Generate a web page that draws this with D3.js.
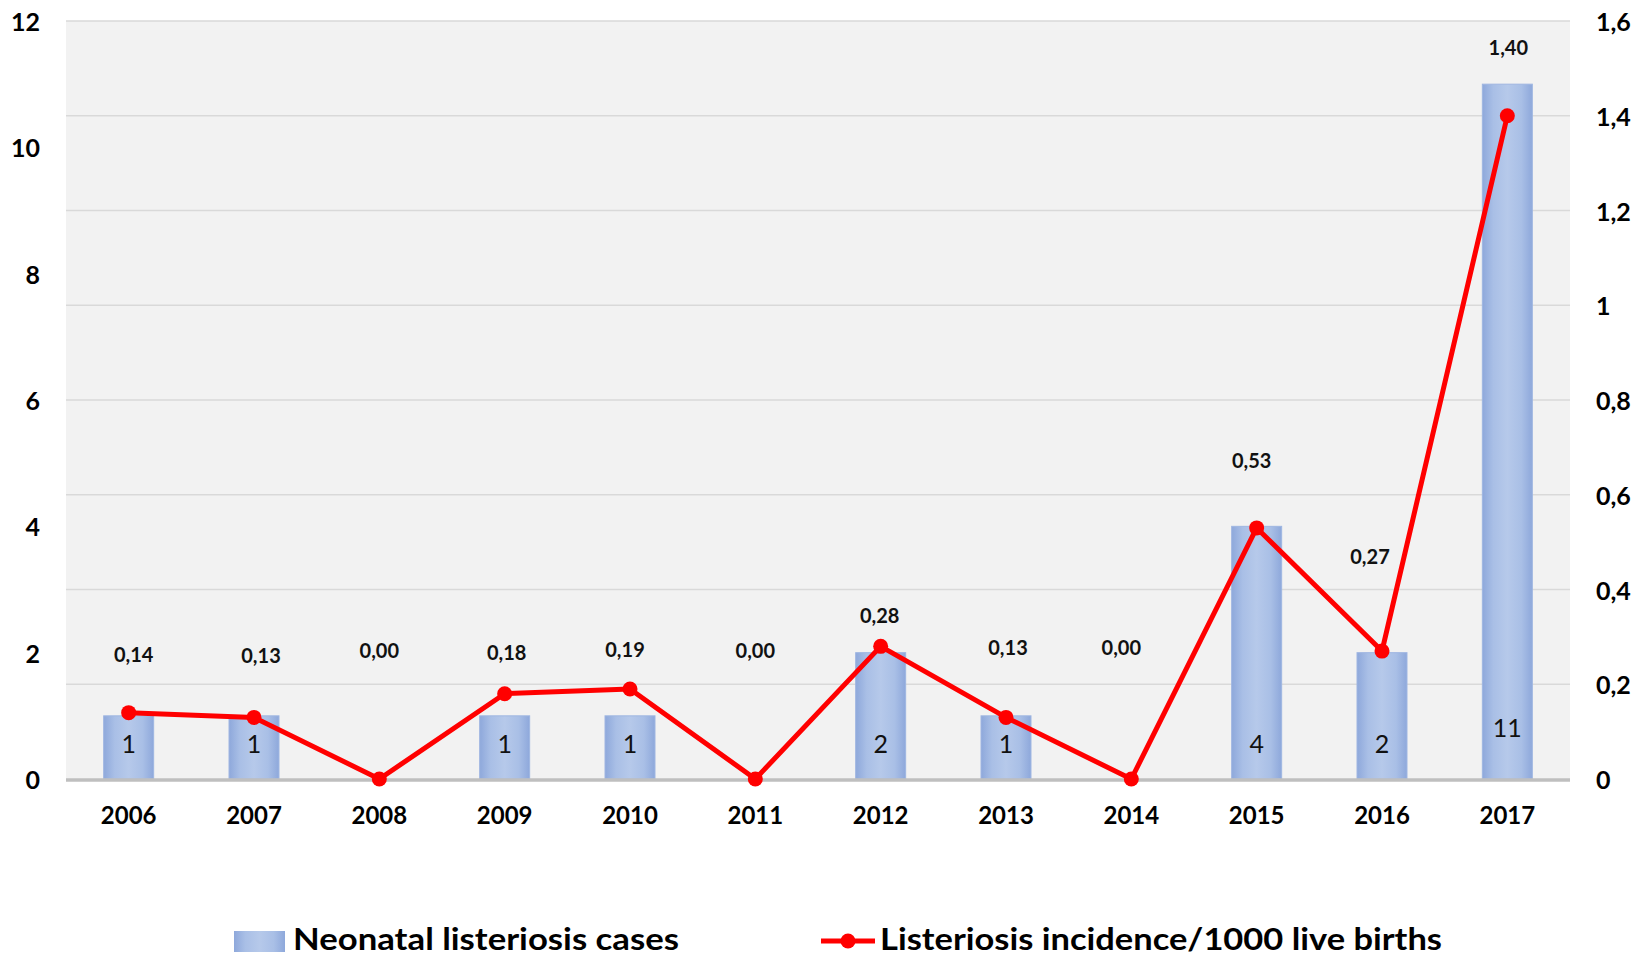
<!DOCTYPE html>
<html>
<head>
<meta charset="utf-8">
<script src="https://cdn.jsdelivr.net/npm/d3@7"></script>
<style>
  html, body { margin: 0; padding: 0; background: #ffffff; }
  svg text { font-family: Lato, "Open Sans", "Liberation Sans", sans-serif; }
</style>
</head>
<body>
<svg id="chart" width="1638" height="957"></svg>
<script>
// Years on the category axis
const years = ["2006", "2007", "2008", "2009", "2010", "2011", "2012", "2013", "2014", "2015", "2016", "2017"];
// Neonatal listeriosis cases per year (bars, left axis)
const cases = [1, 1, 0, 1, 1, 0, 2, 1, 0, 4, 2, 11];
// Listeriosis incidence per 1000 live births (line, right axis)
const incidence = [0.14, 0.13, 0.00, 0.18, 0.19, 0.00, 0.28, 0.13, 0.00, 0.53, 0.27, 1.40];
// Axis tick labels
const leftTicks = [0, 2, 4, 6, 8, 10, 12];
const rightTicks = [0, 0.2, 0.4, 0.6, 0.8, 1, 1.2, 1.4, 1.6];
// Legend entries
const legendNames = ["Neonatal listeriosis cases", "Listeriosis incidence/1000 live births"];

// Placement of the incidence labels: level on the right axis and a small horizontal nudge
const labelLevel = [0.264, 0.262, 0.272, 0.268, 0.274, 0.272, 0.346, 0.279, 0.279, 0.673, 0.471, 1.545];
const labelNudge = [5, 7, 0, 2, -5, 0, -1, 2, -10, -5, -12, 1];

const svg = d3.select("#chart");
const plot = { left: 66, right: 1570, top: 21, bottom: 779 };

const xc = d3.scaleBand().domain(years).range([plot.left, plot.right]);
const yL = d3.scaleLinear().domain([0, 12]).range([plot.bottom, plot.top]);
const yR = d3.scaleLinear().domain([0, 1.6]).range([plot.bottom, plot.top]);
const cx = d => xc(d) + xc.bandwidth() / 2;

// Bar gradient
const defs = svg.append("defs");
const grad = defs.append("linearGradient").attr("id", "barFill").attr("x1", "0").attr("x2", "1").attr("y1", "0").attr("y2", "0");
[["0%", "#8ea8db"], ["22%", "#a9bfe6"], ["50%", "#b6c9ea"], ["78%", "#a9bfe6"], ["100%", "#8ea8db"]]
  .forEach(([o, c]) => grad.append("stop").attr("offset", o).attr("stop-color", c));

// Plot background
svg.append("rect")
  .attr("x", plot.left).attr("y", plot.top)
  .attr("width", plot.right - plot.left).attr("height", plot.bottom - plot.top)
  .attr("fill", "#f2f2f2");

// Gridlines follow the secondary axis ticks
svg.append("g").selectAll("line")
  .data(rightTicks.filter(t => t > 0))
  .join("line")
  .attr("x1", plot.left).attr("x2", plot.right)
  .attr("y1", d => yR(d)).attr("y2", d => yR(d))
  .attr("stroke", "#d9d9d9").attr("stroke-width", 1.5);

// Bars
const barData = years.map((y, i) => ({ year: y, v: cases[i] })).filter(d => d.v > 0);
svg.append("g").selectAll("rect")
  .data(barData)
  .join("rect")
  .attr("x", d => cx(d.year) - 25)
  .attr("width", 50)
  .attr("y", d => yL(d.v))
  .attr("height", d => yL(0) - yL(d.v))
  .attr("fill", "url(#barFill)")
  .attr("stroke", "#9fb6e2").attr("stroke-width", 1);

// Case counts inside the bars
svg.append("g").selectAll("text")
  .data(barData)
  .join("text")
  .attr("x", d => cx(d.year))
  .attr("y", d => d.v > 9 ? yL(0) - 52 : yL(0) - 36)
  .attr("text-anchor", "middle")
  .attr("dominant-baseline", "central")
  .attr("font-size", 25)
  .attr("fill", "#111")
  .text(d => d.v);

// Baseline
svg.append("line")
  .attr("x1", plot.left).attr("x2", plot.right)
  .attr("y1", plot.bottom + 1).attr("y2", plot.bottom + 1)
  .attr("stroke", "#bfbfbf").attr("stroke-width", 3.5);

// Incidence line
const line = d3.line().x((d, i) => cx(years[i])).y(d => yR(d));
svg.append("path")
  .datum(incidence)
  .attr("d", line)
  .attr("fill", "none")
  .attr("stroke", "#ff0000").attr("stroke-width", 5)
  .attr("stroke-linejoin", "round");

svg.append("g").selectAll("circle")
  .data(incidence)
  .join("circle")
  .attr("cx", (d, i) => cx(years[i]))
  .attr("cy", d => yR(d))
  .attr("r", 7.5)
  .attr("fill", "#ff0000");

// Incidence value labels
const fmt = v => v.toFixed(2).replace(".", ",");
svg.append("g").selectAll("text")
  .data(incidence)
  .join("text")
  .attr("x", (d, i) => cx(years[i]) + labelNudge[i])
  .attr("y", (d, i) => yR(labelLevel[i]))
  .attr("text-anchor", "middle")
  .attr("dominant-baseline", "central")
  .attr("font-size", 20)
  .attr("font-weight", "bold")
  .attr("fill", "#111")
  .text(fmt);

// Left axis
svg.append("g").selectAll("text")
  .data(leftTicks)
  .join("text")
  .attr("x", 40)
  .attr("y", d => yL(d))
  .attr("text-anchor", "end")
  .attr("dominant-baseline", "central")
  .attr("font-size", 25)
  .attr("font-weight", "bold")
  .attr("fill", "#000")
  .text(d => d);

// Right axis
svg.append("g").selectAll("text")
  .data(rightTicks)
  .join("text")
  .attr("x", 1596)
  .attr("y", d => yR(d))
  .attr("text-anchor", "start")
  .attr("dominant-baseline", "central")
  .attr("font-size", 25)
  .attr("font-weight", "bold")
  .attr("fill", "#000")
  .text(d => d === 0 ? "0" : String(d).replace(".", ","));

// Category axis
svg.append("g").selectAll("text")
  .data(years)
  .join("text")
  .attr("x", d => cx(d))
  .attr("y", 814)
  .attr("text-anchor", "middle")
  .attr("dominant-baseline", "central")
  .attr("font-size", 24)
  .attr("font-weight", "bold")
  .attr("fill", "#000")
  .text(d => d);

// Legend
const lg = svg.append("g");
lg.append("rect")
  .attr("x", 234).attr("y", 931).attr("width", 51).attr("height", 21)
  .attr("fill", "url(#barFill)");
lg.append("text")
  .attr("x", 293).attr("y", 950)
  .attr("font-size", 31).attr("font-weight", "bold").attr("fill", "#000")
  .attr("textLength", 386).attr("lengthAdjust", "spacingAndGlyphs")
  .text(legendNames[0]);
lg.append("line")
  .attr("x1", 821).attr("x2", 875).attr("y1", 941).attr("y2", 941)
  .attr("stroke", "#ff0000").attr("stroke-width", 5);
lg.append("circle")
  .attr("cx", 848).attr("cy", 941).attr("r", 7.5).attr("fill", "#ff0000");
lg.append("text")
  .attr("x", 880).attr("y", 950)
  .attr("font-size", 31).attr("font-weight", "bold").attr("fill", "#000")
  .attr("textLength", 562).attr("lengthAdjust", "spacingAndGlyphs")
  .text(legendNames[1]);
</script>
</body>
</html>
